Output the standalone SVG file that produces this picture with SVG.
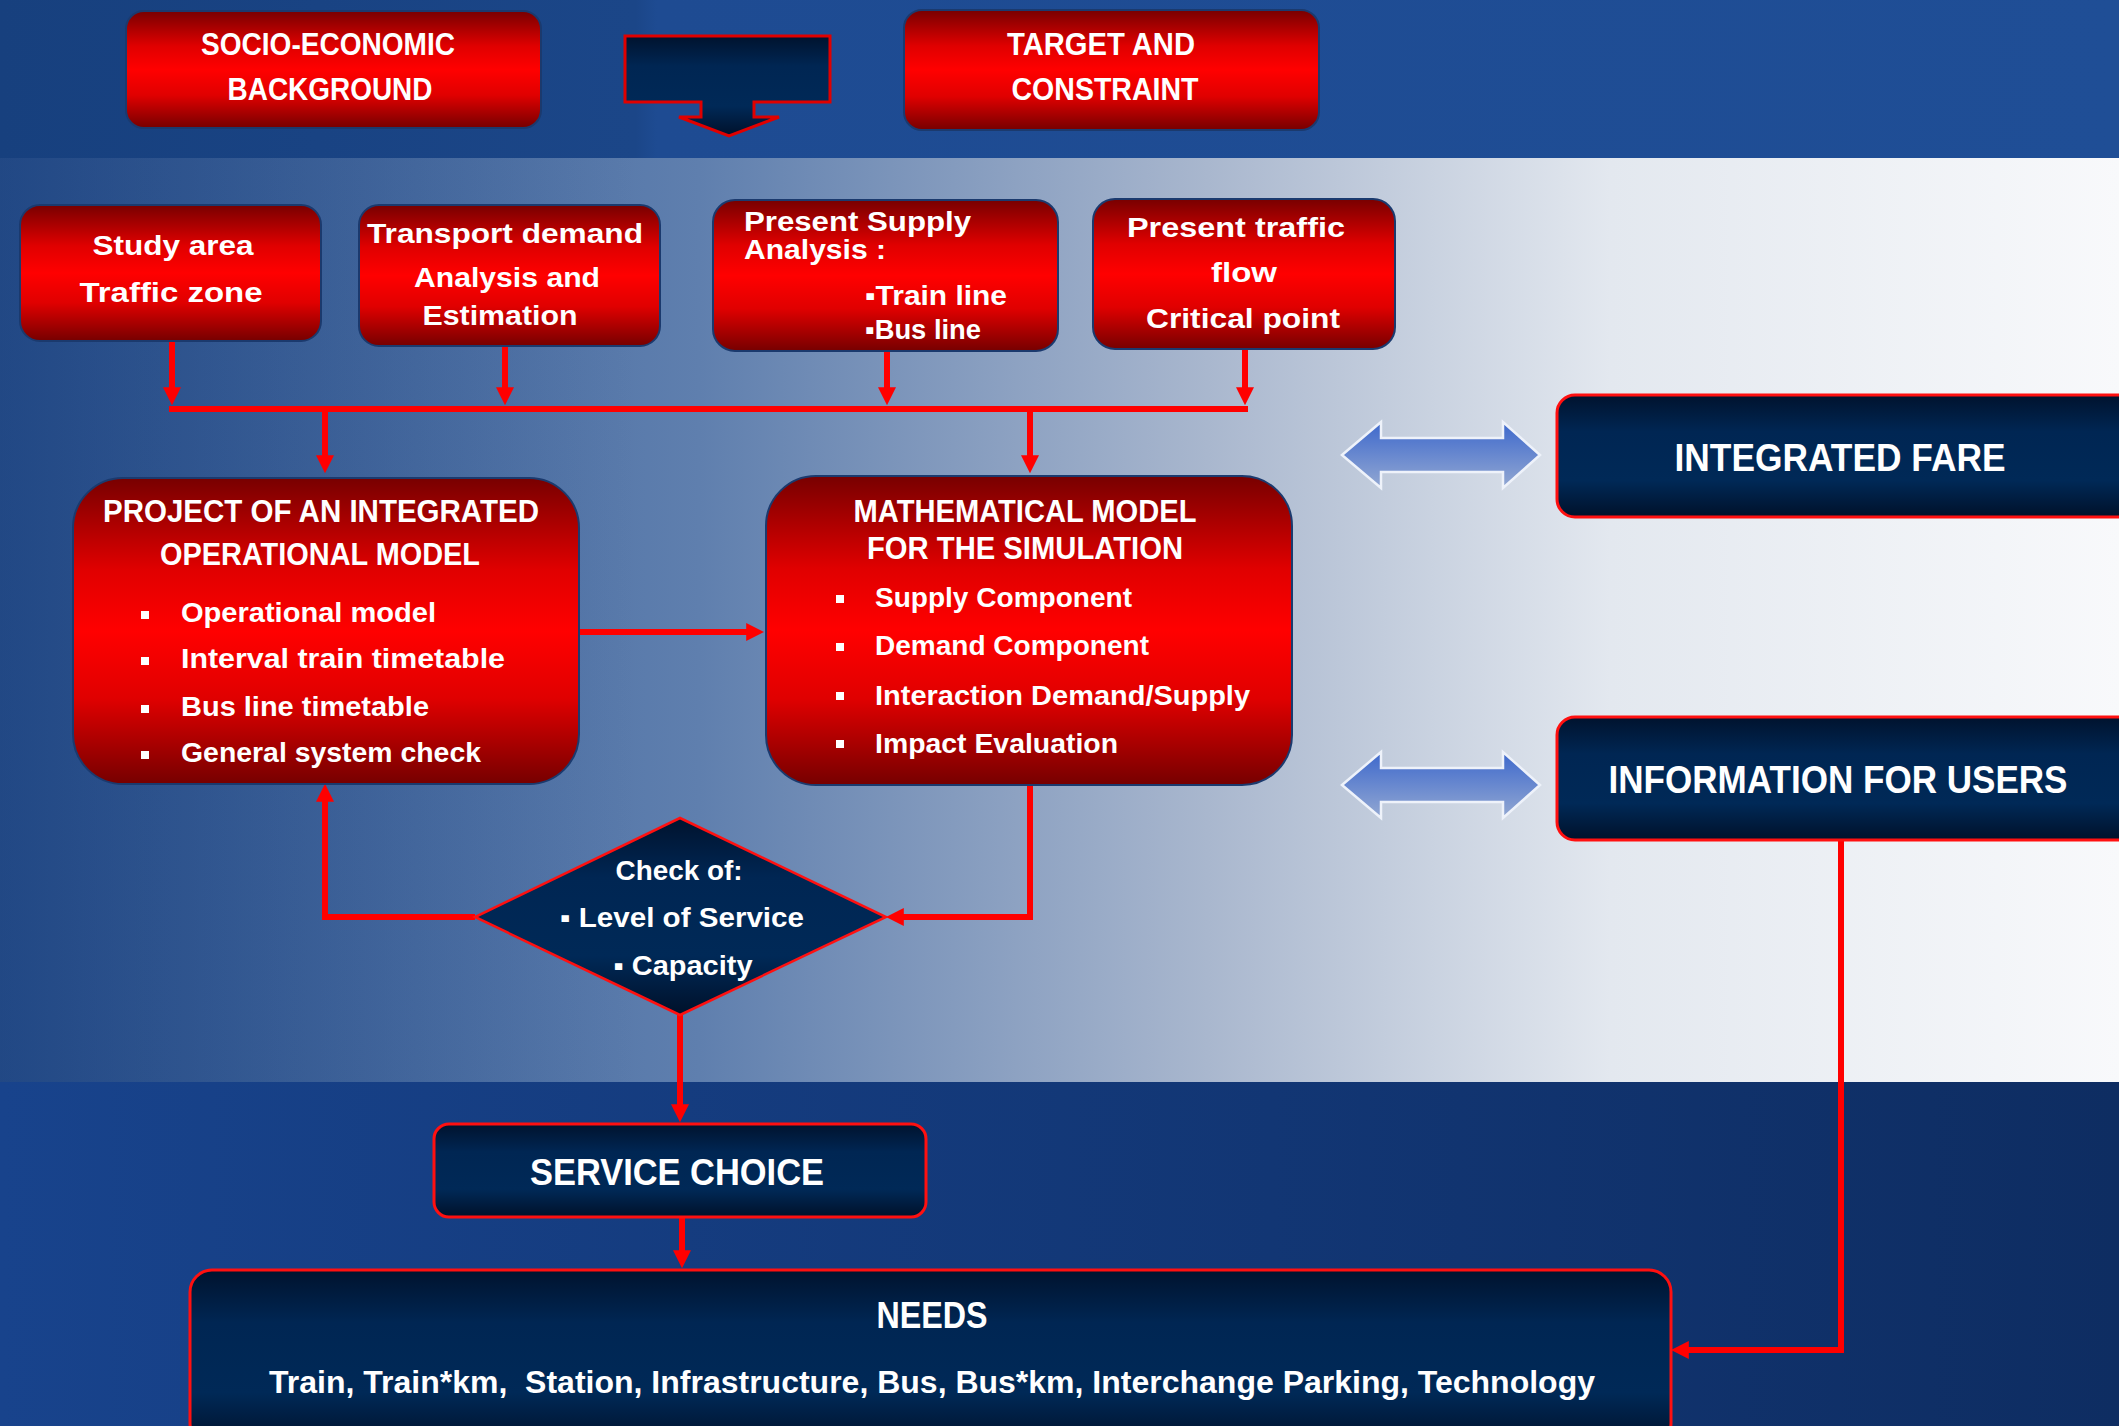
<svg xmlns="http://www.w3.org/2000/svg" width="2119" height="1426" viewBox="0 0 2119 1426">
<defs>
<linearGradient id="topBand" x1="0" y1="0" x2="1" y2="0">
<stop offset="0" stop-color="#17407e"/><stop offset="0.3" stop-color="#1b4688"/><stop offset="0.31" stop-color="#1e4b92"/><stop offset="1" stop-color="#1f4e96"/>
</linearGradient>
<linearGradient id="midBand" x1="0" y1="0" x2="2119" y2="0" gradientUnits="userSpaceOnUse">
<stop offset="0" stop-color="#2b5593"/><stop offset="0.33" stop-color="#5f7fae"/><stop offset="0.57" stop-color="#a9b7ce"/><stop offset="0.76" stop-color="#e3e8ef"/><stop offset="1" stop-color="#f8f9fb"/>
</linearGradient>
<linearGradient id="midShade" x1="0" y1="0" x2="1" y2="0">
<stop offset="0" stop-color="#10306a" stop-opacity="0.35"/><stop offset="1" stop-color="#10306a" stop-opacity="0"/>
</linearGradient>
<linearGradient id="botBand" x1="0" y1="0" x2="1" y2="0">
<stop offset="0" stop-color="#18438c"/><stop offset="0.6" stop-color="#123674"/><stop offset="1" stop-color="#0e2d62"/>
</linearGradient>
<linearGradient id="red" x1="0" y1="0" x2="0" y2="1">
<stop offset="0" stop-color="#780000"/><stop offset="0.3" stop-color="#e00000"/><stop offset="0.5" stop-color="#ff0000"/><stop offset="0.72" stop-color="#e00000"/><stop offset="1" stop-color="#760000"/>
</linearGradient>
<linearGradient id="navy" x1="0" y1="0" x2="0" y2="1">
<stop offset="0" stop-color="#00132e"/><stop offset="0.3" stop-color="#002653"/><stop offset="0.7" stop-color="#002957"/><stop offset="1" stop-color="#00112a"/>
</linearGradient>
<linearGradient id="dbl" x1="0" y1="0" x2="0" y2="1">
<stop offset="0" stop-color="#3d68cc"/><stop offset="1" stop-color="#93a8d2"/>
</linearGradient>
<marker id="ah" viewBox="0 0 10 10" refX="6" refY="5" markerWidth="18" markerHeight="20" markerUnits="userSpaceOnUse" orient="auto">
<path d="M0,0 L10,5 L0,10 z" fill="#ff0000"/>
</marker>
<style>
.rbox{fill:url(#red);stroke:#1b3a6e;stroke-width:2}
.nbox{fill:url(#navy);stroke:#ff1010;stroke-width:3}
.t{font-family:"Liberation Sans",Arial,sans-serif;fill:#ffffff;font-weight:bold}
.c{fill:none;stroke:#ff0000;stroke-width:6}
.b{fill:#ffffff}
</style>
</defs>
<g id="background">
<rect x="0" y="0" width="2119" height="158" fill="url(#topBand)"/>
<rect x="0" y="158" width="2119" height="924" fill="url(#midBand)"/>
<rect x="0" y="158" width="640" height="924" fill="url(#midShade)"/>
<rect x="0" y="1082" width="2119" height="344" fill="url(#botBand)"/>
</g>
<g id="connectors">
<path class="c" d="M172,342 V398" marker-end="url(#ah)"/>
<path class="c" d="M505,347 V398" marker-end="url(#ah)"/>
<path class="c" d="M887,352 V398" marker-end="url(#ah)"/>
<path class="c" d="M1245,350 V398" marker-end="url(#ah)"/>
<path class="c" d="M169,409 H1248"/>
<path class="c" d="M325,409 V466" marker-end="url(#ah)"/>
<path class="c" d="M1030,409 V466" marker-end="url(#ah)"/>
<path class="c" d="M579,632 H757" marker-end="url(#ah)"/>
<path class="c" d="M475,917 H325 V791" marker-end="url(#ah)"/>
<path class="c" d="M1030,785 V917 H893" marker-end="url(#ah)"/>
<path class="c" d="M680,1015 V1115" marker-end="url(#ah)"/>
<path class="c" d="M682,1217 V1261" marker-end="url(#ah)"/>
<path class="c" d="M1841,840 V1350 H1678" marker-end="url(#ah)"/>
</g>
<g id="socio">
<rect class="rbox" x="126" y="11" width="415" height="117" rx="18"/>
<text class="t" x="328" y="55" font-size="31" text-anchor="middle" textLength="254" lengthAdjust="spacingAndGlyphs">SOCIO-ECONOMIC</text>
<text class="t" x="330" y="100" font-size="31" text-anchor="middle" textLength="205" lengthAdjust="spacingAndGlyphs">BACKGROUND</text>
</g>
<g id="down-arrow">
<path d="M625,36 H830 V102 H754 V117 H779 L729,136 L679,117 H701 V102 H625 Z" fill="url(#navy)" stroke="#e00000" stroke-width="3"/>
</g>
<g id="target">
<rect class="rbox" x="904" y="10" width="415" height="120" rx="18"/>
<text class="t" x="1101" y="55" font-size="31" text-anchor="middle" textLength="188" lengthAdjust="spacingAndGlyphs">TARGET AND</text>
<text class="t" x="1105" y="100" font-size="31" text-anchor="middle" textLength="187" lengthAdjust="spacingAndGlyphs">CONSTRAINT</text>
</g>
<g id="study-area">
<rect class="rbox" x="20" y="205" width="301" height="136" rx="20"/>
<text class="t" x="173" y="255" font-size="27" text-anchor="middle" textLength="161" lengthAdjust="spacingAndGlyphs">Study area</text>
<text class="t" x="171" y="302" font-size="27" text-anchor="middle" textLength="183" lengthAdjust="spacingAndGlyphs">Traffic zone</text>
</g>
<g id="transport-demand">
<rect class="rbox" x="359" y="205" width="301" height="141" rx="20"/>
<text class="t" x="505" y="243" font-size="27" text-anchor="middle" textLength="276" lengthAdjust="spacingAndGlyphs">Transport demand</text>
<text class="t" x="507" y="287" font-size="27" text-anchor="middle" textLength="186" lengthAdjust="spacingAndGlyphs">Analysis and</text>
<text class="t" x="500" y="325" font-size="27" text-anchor="middle" textLength="155" lengthAdjust="spacingAndGlyphs">Estimation</text>
</g>
<g id="present-supply">
<rect class="rbox" x="713" y="200" width="345" height="151" rx="22"/>
<text class="t" x="744" y="231" font-size="27" textLength="227" lengthAdjust="spacingAndGlyphs">Present Supply</text>
<text class="t" x="744" y="259" font-size="27" textLength="142" lengthAdjust="spacingAndGlyphs">Analysis :</text>
<text class="t" x="865" y="305" font-size="27" textLength="142" lengthAdjust="spacingAndGlyphs">▪Train line</text>
<text class="t" x="865" y="339" font-size="27" textLength="116" lengthAdjust="spacingAndGlyphs">▪Bus line</text>
</g>
<g id="present-traffic">
<rect class="rbox" x="1093" y="199" width="302" height="150" rx="22"/>
<text class="t" x="1236" y="237" font-size="27" text-anchor="middle" textLength="218" lengthAdjust="spacingAndGlyphs">Present traffic</text>
<text class="t" x="1244" y="282" font-size="27" text-anchor="middle" textLength="66" lengthAdjust="spacingAndGlyphs">flow</text>
<text class="t" x="1243" y="328" font-size="27" text-anchor="middle" textLength="194" lengthAdjust="spacingAndGlyphs">Critical point</text>
</g>
<g id="project">
<rect class="rbox" x="73" y="478" width="506" height="306" rx="50"/>
<text class="t" x="321" y="522" font-size="31" text-anchor="middle" textLength="436" lengthAdjust="spacingAndGlyphs">PROJECT OF AN INTEGRATED</text>
<text class="t" x="320" y="565" font-size="31" text-anchor="middle" textLength="320" lengthAdjust="spacingAndGlyphs">OPERATIONAL MODEL</text>
<rect class="b" x="141" y="611" width="8" height="8"/>
<rect class="b" x="141" y="657" width="8" height="8"/>
<rect class="b" x="141" y="705" width="8" height="8"/>
<rect class="b" x="141" y="751" width="8" height="8"/>
<text class="t" x="181" y="622" font-size="27" textLength="255" lengthAdjust="spacingAndGlyphs">Operational model</text>
<text class="t" x="181" y="668" font-size="27" textLength="324" lengthAdjust="spacingAndGlyphs">Interval train timetable</text>
<text class="t" x="181" y="716" font-size="27" textLength="248" lengthAdjust="spacingAndGlyphs">Bus line timetable</text>
<text class="t" x="181" y="762" font-size="27" textLength="300" lengthAdjust="spacingAndGlyphs">General system check</text>
</g>
<g id="math-model">
<rect class="rbox" x="766" y="476" width="526" height="309" rx="50"/>
<text class="t" x="1025" y="522" font-size="31" text-anchor="middle" textLength="343" lengthAdjust="spacingAndGlyphs">MATHEMATICAL MODEL</text>
<text class="t" x="1025" y="559" font-size="31" text-anchor="middle" textLength="316" lengthAdjust="spacingAndGlyphs">FOR THE SIMULATION</text>
<rect class="b" x="836" y="595" width="8" height="8"/>
<rect class="b" x="836" y="643" width="8" height="8"/>
<rect class="b" x="836" y="692" width="8" height="8"/>
<rect class="b" x="836" y="740" width="8" height="8"/>
<text class="t" x="875" y="607" font-size="27" textLength="257" lengthAdjust="spacingAndGlyphs">Supply Component</text>
<text class="t" x="875" y="655" font-size="27" textLength="274" lengthAdjust="spacingAndGlyphs">Demand Component</text>
<text class="t" x="875" y="705" font-size="27" textLength="375" lengthAdjust="spacingAndGlyphs">Interaction Demand/Supply</text>
<text class="t" x="875" y="753" font-size="27" textLength="243" lengthAdjust="spacingAndGlyphs">Impact Evaluation</text>
</g>
<g id="arrow-fare">
<path d="M1342,455 L1381,422 V438 H1503 V422 L1540,455 L1503,488 V472 H1381 V488 Z" fill="url(#dbl)" stroke="#eef2fa" stroke-width="2.5"/>
</g>
<g id="arrow-info">
<path d="M1342,785 L1381,752 V768 H1503 V752 L1540,785 L1503,818 V802 H1381 V818 Z" fill="url(#dbl)" stroke="#eef2fa" stroke-width="2.5"/>
</g>
<g id="integrated-fare">
<rect class="nbox" x="1557" y="395" width="580" height="122" rx="18"/>
<text class="t" x="1840" y="471" font-size="38" text-anchor="middle" textLength="331" lengthAdjust="spacingAndGlyphs">INTEGRATED FARE</text>
</g>
<g id="information-users">
<rect class="nbox" x="1557" y="717" width="580" height="123" rx="18"/>
<text class="t" x="1838" y="793" font-size="38" text-anchor="middle" textLength="459" lengthAdjust="spacingAndGlyphs">INFORMATION FOR USERS</text>
</g>
<g id="check">
<path d="M680,818 L886,917 L680,1015 L475,917 Z" fill="url(#navy)" stroke="#ff1010" stroke-width="2.5"/>
<text class="t" x="679" y="880" font-size="27" text-anchor="middle" textLength="127" lengthAdjust="spacingAndGlyphs">Check of:</text>
<text class="t" x="682" y="927" font-size="27" text-anchor="middle" textLength="244" lengthAdjust="spacingAndGlyphs">▪ Level of Service</text>
<text class="t" x="683" y="975" font-size="27" text-anchor="middle" textLength="139" lengthAdjust="spacingAndGlyphs">▪ Capacity</text>
</g>
<g id="service-choice">
<rect class="nbox" x="434" y="1124" width="492" height="93" rx="15"/>
<text class="t" x="677" y="1185" font-size="37" text-anchor="middle" textLength="294" lengthAdjust="spacingAndGlyphs">SERVICE CHOICE</text>
</g>
<g id="needs">
<rect class="nbox" x="190" y="1270" width="1481" height="175" rx="22"/>
<text class="t" x="932" y="1328" font-size="37" text-anchor="middle" textLength="111" lengthAdjust="spacingAndGlyphs">NEEDS</text>
<text class="t" x="932" y="1393" font-size="31" text-anchor="middle" textLength="1326" lengthAdjust="spacingAndGlyphs" xml:space="preserve">Train, Train*km,  Station, Infrastructure, Bus, Bus*km, Interchange Parking, Technology</text>
</g>
</svg>
